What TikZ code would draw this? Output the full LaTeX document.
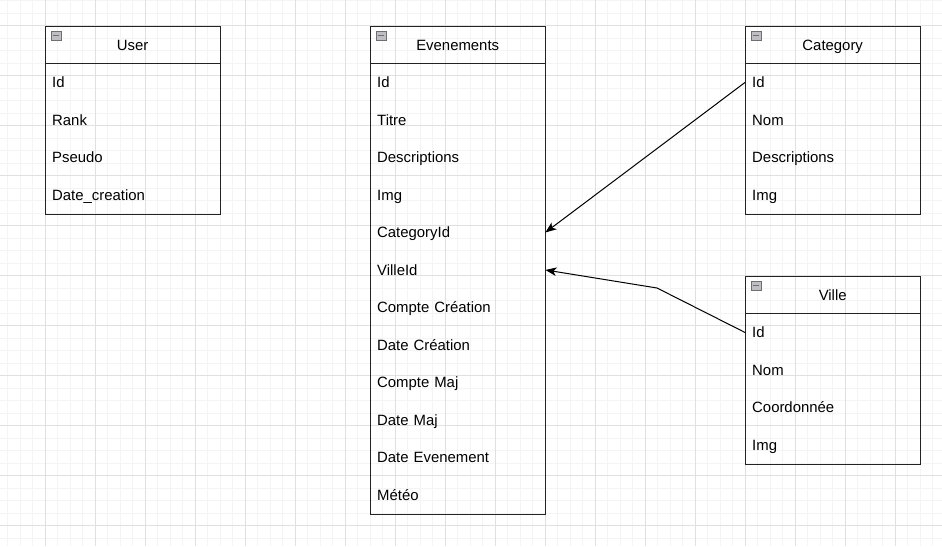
\documentclass[tikz,border=0pt]{standalone}
\usepackage{fontspec}
\setmainfont{Liberation Sans}
\usetikzlibrary{arrows.meta}
\definecolor{minorc}{RGB}{244,244,244}
\definecolor{majorc}{RGB}{224,224,224}
\definecolor{boxc}{RGB}{35,35,35}
\definecolor{iconf}{RGB}{190,190,195}
\definecolor{icond}{RGB}{110,110,115}
\tikzset{
  tbl/.style={draw=boxc, line width=1.2pt, minimum width=175pt, inner sep=0pt, anchor=north west},
  hdr/.style={minimum width=175pt, minimum height=37.5pt, inner sep=0pt, text height=12.2pt, text depth=1.6pt, anchor=north west, font=\fontsize{14.9}{18}\selectfont},
  rowf/.style={minimum width=175pt, minimum height=37.5pt, inner xsep=7pt, inner ysep=0pt, text width=161pt, text height=12.2pt, text depth=1.6pt, align=left, anchor=north west, font=\fontsize{14.9}{18}\selectfont},
  sep/.style={draw=boxc, line width=1.2pt},
  iconbox/.style={draw=icond, fill=iconf, line width=0.6pt, minimum width=10pt, minimum height=9pt, inner sep=0pt, anchor=north west},
  link/.style={draw=black, line width=1pt, -{Stealth[length=11pt, width=8.5pt, inset=3pt]}}
}
\begin{document}
\begin{tikzpicture}[x=1pt, y=-1pt]
\useasboundingbox (0,0) rectangle (942,546);
\fill[white] (0,0) rectangle (942,546);
% grid
\foreach \x in {7.5,20,...,942} \draw[minorc, line width=0.8pt] (\x,0) -- (\x,546);
\foreach \y in {0.5,13,...,546} \draw[minorc, line width=0.8pt] (0,\y) -- (942,\y);
\foreach \x in {45,95,...,942} \draw[majorc, line width=0.8pt] (\x,0) -- (\x,546);
\foreach \y in {25,75,...,546} \draw[majorc, line width=0.8pt] (0,\y) -- (942,\y);

% ---------- User ----------
\node[tbl, minimum height=187.5pt] (u) at (45,26) {};
\node[hdr] (ut) at (45,26) {User};
\draw[sep] (45,63.5) -- (220,63.5);
\node[rowf] (u1) at (45,63.5) {Id};
\node[rowf] (u2) at (45,101) {Rank};
\node[rowf] (u3) at (45,138.5) {Pseudo};
\node[rowf] (u4) at (45,176) {Date\_creation};
\node[iconbox] (ui) at (51,31) {};
\draw[icond, line width=1pt] (53,35.5) -- (59,35.5);

% ---------- Evenements ----------
\node[tbl, minimum height=487.5pt] (e) at (370,26) {};
\node[hdr] (et) at (370,26) {Evenements};
\draw[sep] (370,63.5) -- (545,63.5);
\node[rowf] (e1) at (370,63.5) {Id};
\node[rowf] (e2) at (370,101) {Titre};
\node[rowf] (e3) at (370,138.5) {Descriptions};
\node[rowf] (e4) at (370,176) {Img};
\node[rowf] (e5) at (370,213.5) {CategoryId};
\node[rowf] (e6) at (370,251) {VilleId};
\node[rowf] (e7) at (370,288.5) {Compte Création};
\node[rowf] (e8) at (370,326) {Date Création};
\node[rowf] (e9) at (370,363.5) {Compte Maj};
\node[rowf] (e10) at (370,401) {Date Maj};
\node[rowf] (e11) at (370,438.5) {Date Evenement};
\node[rowf] (e12) at (370,476) {Météo};
\node[iconbox] (ei) at (376,31) {};
\draw[icond, line width=1pt] (378,35.5) -- (384,35.5);

% ---------- Category ----------
\node[tbl, minimum height=187.5pt] (c) at (745,26) {};
\node[hdr] (ct) at (745,26) {Category};
\draw[sep] (745,63.5) -- (920,63.5);
\node[rowf] (c1) at (745,63.5) {Id};
\node[rowf] (c2) at (745,101) {Nom};
\node[rowf] (c3) at (745,138.5) {Descriptions};
\node[rowf] (c4) at (745,176) {Img};
\node[iconbox] (ci) at (751,31) {};
\draw[icond, line width=1pt] (753,35.5) -- (759,35.5);

% ---------- Ville ----------
\node[tbl, minimum height=187.5pt] (v) at (745,276) {};
\node[hdr] (vt) at (745,276) {Ville};
\draw[sep] (745,313.5) -- (920,313.5);
\node[rowf] (v1) at (745,313.5) {Id};
\node[rowf] (v2) at (745,351) {Nom};
\node[rowf] (v3) at (745,388.5) {Coordonnée};
\node[rowf] (v4) at (745,426) {Img};
\node[iconbox] (vi) at (751,281) {};
\draw[icond, line width=1pt] (753,285.5) -- (759,285.5);

% ---------- links ----------
\coordinate (bend) at (657,288);
\draw[link] (c1.west) -- (e5.east);
\draw[link] (v1.west) -- (bend) -- (e6.east);
\end{tikzpicture}
\end{document}
